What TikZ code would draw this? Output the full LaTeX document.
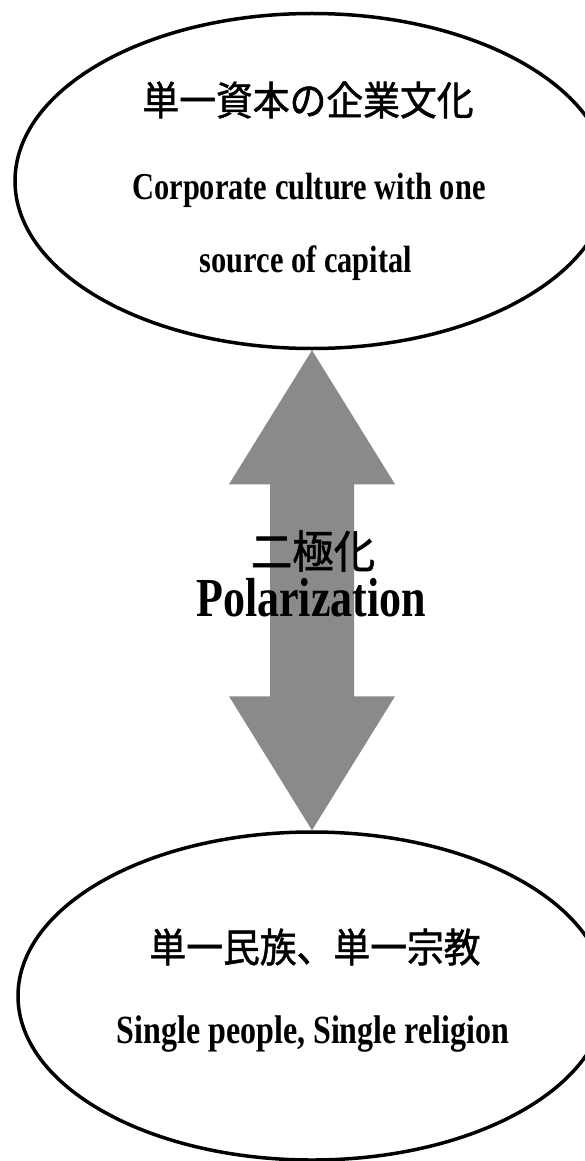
\documentclass[tikz,border=0pt]{standalone}
\usepackage{fontspec}
\newfontfamily\enfont{Liberation Serif Bold}[FakeStretch=0.8]
\newfontfamily\cjk{Noto Sans CJK JP}[FakeStretch=0.92, FakeBold=1.2]
\usetikzlibrary{calc, shapes.geometric}
\definecolor{cgray}{HTML}{8A8A8A}
\tikzset{
  every picture/.style={x=1pt, y=-1pt},
  pole/.style={draw, ellipse, line width=3.5pt, inner sep=0pt},
  jp/.style={font=\cjk\fontsize{40}{44}\selectfont},
  en/.style={font=\enfont\fontsize{38}{42}\selectfont},
  bigen/.style={font=\enfont\fontsize{55}{60}\selectfont},
  bigjp/.style={font=\cjk\fontsize{45}{50}\selectfont},
}

\begin{document}
\begin{tikzpicture}
  \useasboundingbox (0,0) rectangle (584,1161);
  \node[pole, minimum width=594pt, minimum height=335pt] (capital) at (312,181) {};
  \node[pole, minimum width=588pt, minimum height=328pt] (people) at (312,996) {};
  \fill[cgray] (capital.south) -- ++(83,134) -- ++(-41,0) -- ($(people.north)+(42,-134)$) -- ++(41,0)
    -- (people.north) -- ++(-83,-134) -- ++(41,0) -- ($(capital.south)+(-42,134)$) -- ++(-41,0) -- cycle;
  \node[jp] (capjp) at (308,100) {単一資本の企業文化};
  \node[en] (capen) at (309,190) {Corporate culture with one};
  \node[en] (capsrc) at (306,263) {source of capital};
  \node[bigjp] (poljp) at (313,551) {二極化};
  \node[bigen] (polen) at (311,598) {Polarization};
  \node[jp] (peojp) at (315,947) {単一民族、単一宗教};
  \node[en, font=\enfont\fontsize{40}{44}\selectfont] (peoen) at (313,1034) {Single people, Single religion};
\end{tikzpicture}
\end{document}
